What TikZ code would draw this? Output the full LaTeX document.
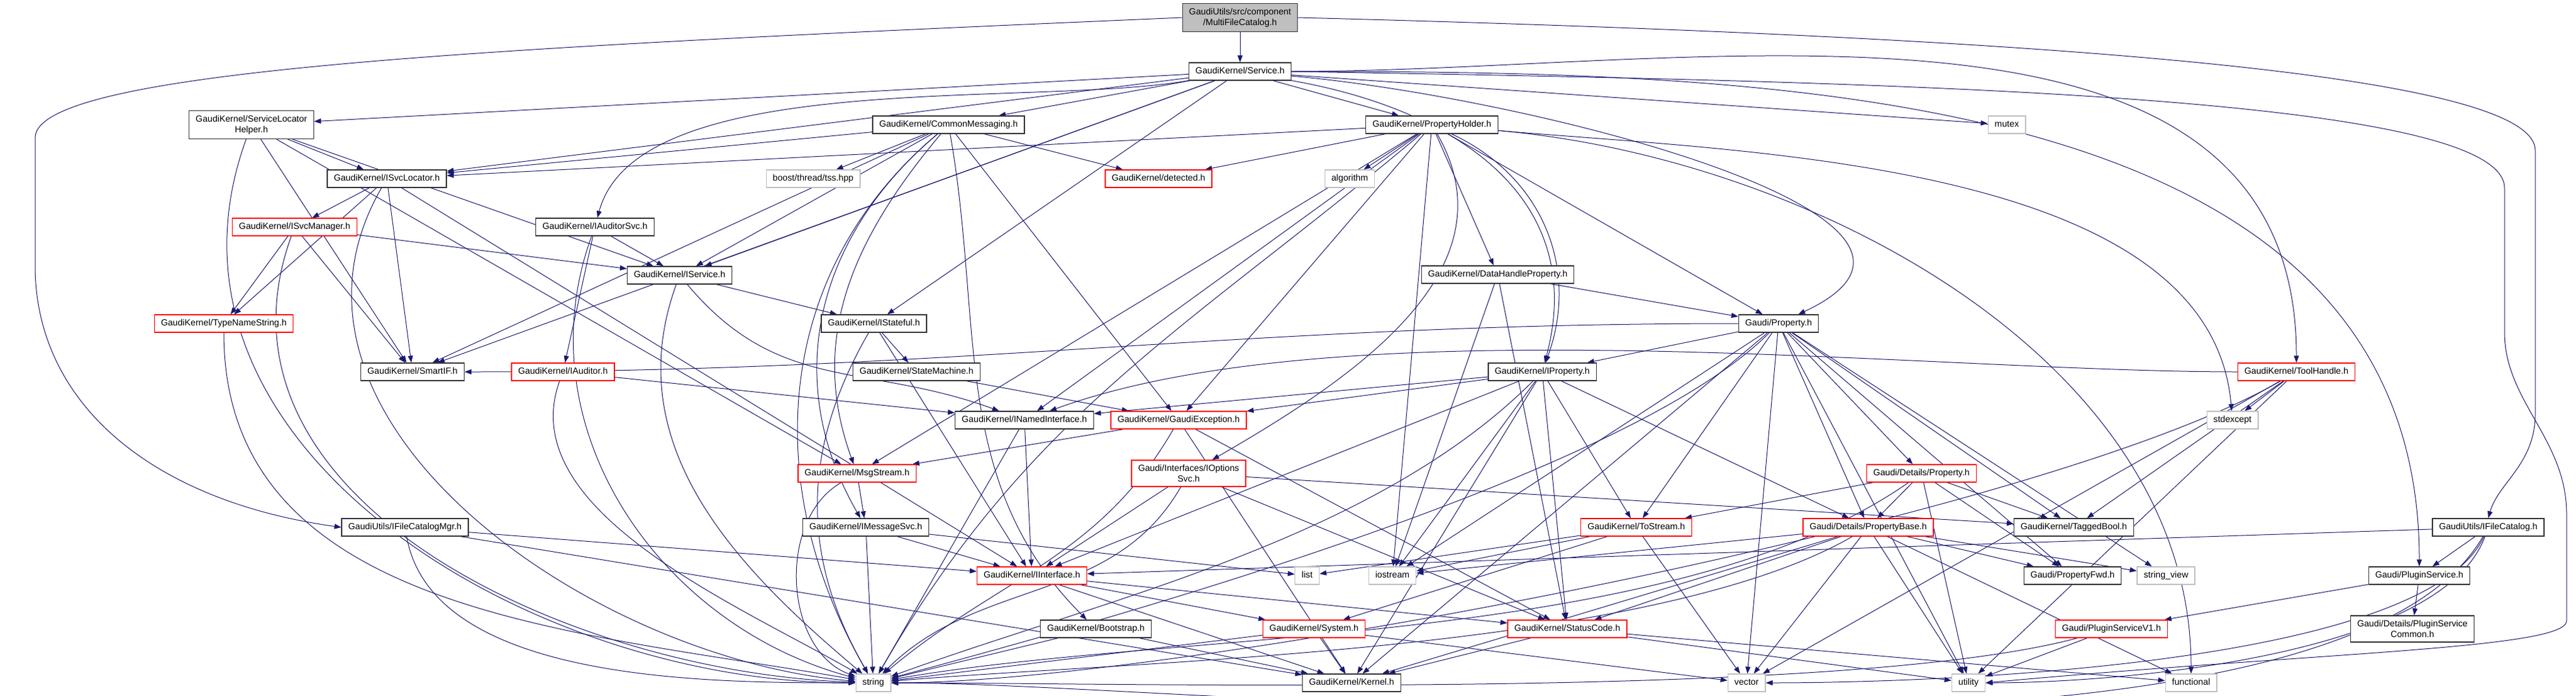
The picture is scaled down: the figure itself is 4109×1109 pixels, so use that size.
\documentclass[tikz,border=0pt]{standalone}
\usepackage{fontspec}
\setmainfont{Liberation Sans}
\usetikzlibrary{arrows.meta}
\definecolor{edgeblue}{RGB}{25,25,112}
\definecolor{grey75}{RGB}{191,191,191}
\pgfdeclarelayer{edges}
\pgfsetlayers{edges,main}
\begin{document}
\begin{tikzpicture}[x=1pt,y=1pt,
    every node/.style={font=\fontsize{14.2}{16.7}\selectfont, fill=white, line width=1.3pt,
      inner xsep=10.5pt, inner ysep=7pt, minimum height=28pt, text height=10.2pt, text depth=2.8pt},
    hdr/.style={draw=black!80},
    trunc/.style={draw=red},
    ext/.style={draw=grey75},
    rootbox/.style={draw=black!80, fill=grey75},
    twoline/.style={align=center, text height={}, text depth={}, inner ysep=7.5pt},
    dep/.style={draw=edgeblue, line width=1pt, -{Triangle[length=11pt,width=8pt]}}]
\useasboundingbox (0,0) rectangle (4109,-1109);
% headers, row by row
\node[rootbox,twoline] (mfc) at (1978,-28) {GaudiUtils/src/component\\/MultiFileCatalog.h};
\node[hdr] (service) at (1978,-114) {GaudiKernel/Service.h};
\node[hdr,twoline] (slh) at (401,-199) {GaudiKernel/ServiceLocator\\Helper.h};
\node[hdr] (cmsg) at (1513,-199) {GaudiKernel/CommonMessaging.h};
\node[hdr] (pholder) at (2284,-199) {GaudiKernel/PropertyHolder.h};
\node[ext] (mutex) at (3201,-199) {mutex};
\node[hdr] (isvcloc) at (617,-285) {GaudiKernel/ISvcLocator.h};
\node[ext] (tss) at (1297,-285) {boost/thread/tss.hpp};
\node[trunc] (detected) at (1848,-285) {GaudiKernel/detected.h};
\node[ext] (algorithm) at (2153,-285) {algorithm};
\node[trunc] (isvcmgr) at (470,-362) {GaudiKernel/ISvcManager.h};
\node[hdr] (iauditorsvc) at (949,-362) {GaudiKernel/IAuditorSvc.h};
\node[hdr] (iservice) at (1084,-439) {GaudiKernel/IService.h};
\node[hdr] (dhprop) at (2389,-438) {GaudiKernel/DataHandleProperty.h};
\node[trunc] (typename) at (357,-516) {GaudiKernel/TypeNameString.h};
\node[hdr] (istateful) at (1394,-516) {GaudiKernel/IStateful.h};
\node[hdr] (gprop) at (2837,-516) {Gaudi/Property.h};
\node[hdr] (smartif) at (658,-593) {GaudiKernel/SmartIF.h};
\node[trunc] (iauditor) at (898,-593) {GaudiKernel/IAuditor.h};
\node[hdr] (statemach) at (1462,-593) {GaudiKernel/StateMachine.h};
\node[hdr] (iproperty) at (2460,-593) {GaudiKernel/IProperty.h};
\node[trunc] (toolhandle) at (3663,-593) {GaudiKernel/ToolHandle.h};
\node[hdr] (inamed) at (1634,-670) {GaudiKernel/INamedInterface.h};
\node[trunc] (gexcept) at (1880,-670) {GaudiKernel/GaudiException.h};
\node[ext] (stdexcept) at (3561,-670) {stdexcept};
\node[trunc] (msgstream) at (1367,-755) {GaudiKernel/MsgStream.h};
\node[trunc,twoline] (ioptsvc) at (1896,-755) {Gaudi/Interfaces/IOptions\\Svc.h};
\node[trunc] (dprop) at (3065,-755) {Gaudi/Details/Property.h};
\node[hdr] (ifcmgr) at (646,-841) {GaudiUtils/IFileCatalogMgr.h};
\node[hdr] (imsgsvc) at (1381,-841) {GaudiKernel/IMessageSvc.h};
\node[trunc] (tostream) at (2610,-841) {GaudiKernel/ToStream.h};
\node[trunc] (propbase) at (2980,-841) {Gaudi/Details/PropertyBase.h};
\node[hdr] (taggedbool) at (3308,-841) {GaudiKernel/TaggedBool.h};
\node[hdr] (ifc) at (3969,-841) {GaudiUtils/IFileCatalog.h};
\node[trunc] (iinterface) at (1646,-918) {GaudiKernel/IInterface.h};
\node[ext] (list) at (2085,-918) {list};
\node[ext] (iostream) at (2221,-918) {iostream};
\node[hdr] (propfwd) at (3306,-918) {Gaudi/PropertyFwd.h};
\node[ext] (strview) at (3455,-918) {string\_view};
\node[hdr] (pluginsvc) at (3859,-918) {Gaudi/PluginService.h};
\node[hdr] (bootstrap) at (1748,-1003) {GaudiKernel/Bootstrap.h};
\node[trunc] (system) at (2096,-1003) {GaudiKernel/System.h};
\node[trunc] (statuscode) at (2500,-1003) {GaudiKernel/StatusCode.h};
\node[trunc] (psv1) at (3368,-1003) {Gaudi/PluginServiceV1.h};
\node[hdr,twoline] (pscommon) at (3848,-1003) {Gaudi/Details/PluginService\\Common.h};
\node[ext] (string) at (1393,-1089) {string};
\node[hdr] (kernel) at (2156,-1089) {GaudiKernel/Kernel.h};
\node[ext] (vector) at (2786,-1089) {vector};
\node[ext] (utility) at (3140,-1089) {utility};
\node[ext] (functional) at (3495,-1089) {functional};
\begin{pgfonlayer}{edges}
% plain includes
\foreach \src/\dst in {mfc/service,
    service/slh, service/isvcloc, service/cmsg, service/pholder, service/iservice, service/istateful, service/smartif, service/mutex,
    slh/isvcloc, slh/smartif, slh/iservice, slh/msgstream,
    isvcloc/isvcmgr, isvcloc/typename, isvcloc/smartif, isvcloc/iinterface,
    isvcmgr/typename, isvcmgr/smartif, isvcmgr/iservice,
    iauditorsvc/iauditor, iauditorsvc/iservice,
    cmsg/isvcloc, cmsg/tss, cmsg/detected, cmsg/smartif, cmsg/iservice, cmsg/gexcept,
    pholder/isvcloc, pholder/detected, pholder/algorithm, pholder/dhprop, pholder/gprop, pholder/gexcept, pholder/msgstream, pholder/inamed, pholder/iostream,
    dhprop/gprop, dhprop/iostream, dhprop/statuscode,
    iservice/istateful, istateful/statemach, istateful/iinterface,
    statemach/gexcept, iauditor/inamed, inamed/iinterface,
    gexcept/msgstream, gexcept/statuscode, gexcept/kernel,
    msgstream/imsgsvc, imsgsvc/iinterface, imsgsvc/list, imsgsvc/string,
    ioptsvc/iinterface, ioptsvc/statuscode, ioptsvc/taggedbool,
    iinterface/system, iinterface/statuscode, iinterface/kernel,
    ifcmgr/iinterface, ifcmgr/kernel,
    gprop/iproperty, gprop/tostream, gprop/propbase, gprop/dprop, gprop/taggedbool, gprop/propfwd, gprop/strview, gprop/iostream, gprop/kernel, gprop/vector, gprop/utility,
    iproperty/inamed, iproperty/iinterface, iproperty/gexcept, iproperty/tostream, iproperty/iostream, iproperty/statuscode, iproperty/kernel, iproperty/propbase,
    dprop/propbase, dprop/tostream, dprop/taggedbool, dprop/propfwd, dprop/utility,
    tostream/list, tostream/iostream, tostream/system, tostream/vector,
    propbase/propfwd, propbase/strview, propbase/iostream, propbase/statuscode, propbase/vector, propbase/utility, propbase/functional, propbase/kernel,
    system/kernel, system/vector, system/string,
    statuscode/kernel, statuscode/utility, statuscode/functional,
    bootstrap/kernel, bootstrap/string,
    toolhandle/stdexcept, toolhandle/taggedbool, toolhandle/vector, toolhandle/utility,
    pluginsvc/pscommon, pluginsvc/psv1, psv1/utility,
    ifc/iinterface, ifc/pluginsvc}
  \draw[dep] (\src) -- (\dst);
% bent includes: source/target/out angle/in angle/pull
\foreach \src/\dst/\angout/\angin/\pull in {
    service/iauditorsvc/-170/75/250, service/iproperty/-10/75/270, service/gprop/-5/25/370,
    service/toolhandle/0/90/650, service/pluginsvc/0/90/770,
    cmsg/msgstream/-130/110/215, cmsg/imsgsvc/-140/120/254, cmsg/bootstrap/-80/135/310,
    pholder/ioptsvc/-60/30/253, pholder/iproperty/-25/70/160,
    pholder/stdexcept/-5/95/400, pholder/functional/-5/90/500,
    iservice/inamed/-50/160/228, gprop/smartif/180/0/790, toolhandle/inamed/180/20/500,
    slh/string/-110/180/520, isvcloc/string/-120/175/426, isvcmgr/string/-110/178/450,
    typename/string/-90/170/450, iauditorsvc/string/-110/165/324, iauditor/string/-110/150/220,
    iservice/string/-110/140/270, istateful/string/-120/120/215, inamed/string/-120/60/177,
    cmsg/string/-140/120/344, pholder/string/-140/60/485, msgstream/string/-150/160/120,
    ioptsvc/string/-120/45/218, gexcept/string/-120/40/238, gprop/string/-135/15/330,
    iproperty/string/-135/20/360, dprop/string/-145/10/460, propbase/string/-150/5/375,
    toolhandle/string/-150/0/447, psv1/string/-165/0/385,
    ifc/string/-120/0/500, ifc/vector/-115/0/234, ifc/utility/-110/0/205,
    ifcmgr/string/-80/180/236}
  \draw[dep] (\src.\angout) .. controls +(\angout:\pull) and +(\angin:\pull) .. (\dst.\angin);
% long runs round the edges of the picture
\draw[dep] (mfc.west) .. controls (800,-75) and (56,-110) .. (56,-220) -- (56,-430)
  .. controls (60,-650) and (250,-800) .. (ifcmgr.west);
\draw[dep] (mfc.east) .. controls (3300,-60) and (4044,-120) .. (4044,-240) -- (4044,-660)
  .. controls (4044,-740) and (3985,-770) .. (ifc.north);
\draw[dep] (service.east) .. controls (3000,-130) and (3995,-150) .. (3995,-300) -- (3995,-530)
  .. controls (3995,-640) and (4094,-700) .. (4094,-820) -- (4094,-990)
  .. controls (4094,-1035) and (3700,-1040) .. (utility.east);
\end{pgfonlayer}
\end{tikzpicture}
\end{document}
